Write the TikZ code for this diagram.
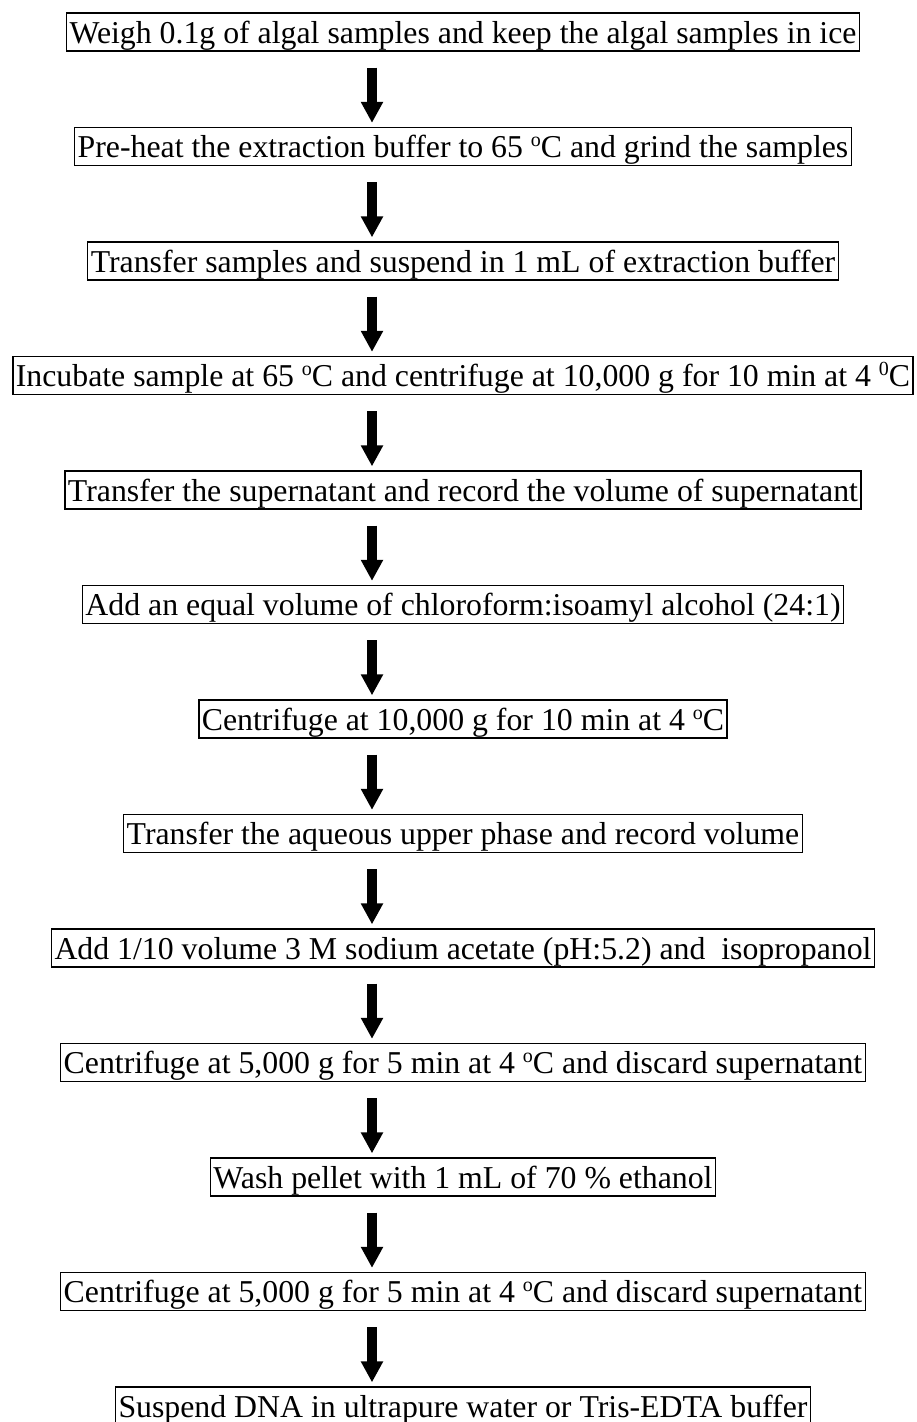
\documentclass[tikz,border=0pt]{standalone}
\usepackage{fontspec}
\setmainfont{Liberation Serif}
\usetikzlibrary{arrows.meta,positioning}
\newcommand\degsup[1]{\raisebox{11pt}{\fontsize{20pt}{20pt}\selectfont #1}}

\begin{document}
\begin{tikzpicture}[x=1pt, y=1pt,
  stepbox/.style={draw, line width=1.3pt, inner xsep=3pt, inner ysep=2pt,
    text height=28pt, text depth=6pt, font=\fontsize{31.8pt}{38pt}\selectfont},
  flow/.style={line width=10pt, -{Triangle[width=21pt,length=21pt]}}]
\useasboundingbox (0,0) rectangle (917,-1422);

\node[stepbox] (weigh) at (463,-32) {Weigh 0.1g of algal samples and keep the algal samples in ice};
\node[stepbox, below=75.2pt of weigh] (preheat) {Pre-heat the extraction buffer to 65 \degsup{o}C and grind the samples};
\node[stepbox, below=75.2pt of preheat] (suspend) {Transfer samples and suspend in 1 mL of extraction buffer};
\node[stepbox, below=75.2pt of suspend] (incubate) {Incubate sample at 65 \degsup{o}C and centrifuge at 10,000 g for 10 min at 4 \degsup{0}C};
\node[stepbox, below=75.2pt of incubate] (supernat) {Transfer the supernatant and record the volume of supernatant};
\node[stepbox, below=75.2pt of supernat] (chloro) {Add an equal volume of chloroform:isoamyl alcohol (24:1)};
\node[stepbox, below=75.2pt of chloro] (spinA) {Centrifuge at 10,000 g for 10 min at 4 \degsup{o}C};
\node[stepbox, below=75.2pt of spinA] (aqueous) {Transfer the aqueous upper phase and record volume};
\node[stepbox, below=75.2pt of aqueous] (acetate) {Add 1/10 volume 3 M sodium acetate (pH:5.2) and\ \ isopropanol};
\node[stepbox, below=75.2pt of acetate] (spinB) {Centrifuge at 5,000 g for 5 min at 4 \degsup{o}C and discard supernatant};
\node[stepbox, below=75.2pt of spinB] (wash) {Wash pellet with 1 mL of 70 \% ethanol};
\node[stepbox, below=75.2pt of wash] (spinC) {Centrifuge at 5,000 g for 5 min at 4 \degsup{o}C and discard supernatant};
\node[stepbox, below=75.2pt of spinC] (dna) {Suspend DNA in ultrapure water or Tris-EDTA buffer};

% arrows sit left of the box centres
\draw[flow] ([xshift=-91pt,yshift=-16pt]weigh.south) -- ([xshift=-91pt,yshift=4pt]preheat.north);
\draw[flow] ([xshift=-91pt,yshift=-16pt]preheat.south) -- ([xshift=-91pt,yshift=4pt]suspend.north);
\draw[flow] ([xshift=-91pt,yshift=-16pt]suspend.south) -- ([xshift=-91pt,yshift=4pt]incubate.north);
\draw[flow] ([xshift=-91pt,yshift=-16pt]incubate.south) -- ([xshift=-91pt,yshift=4pt]supernat.north);
\draw[flow] ([xshift=-91pt,yshift=-16pt]supernat.south) -- ([xshift=-91pt,yshift=4pt]chloro.north);
\draw[flow] ([xshift=-91pt,yshift=-16pt]chloro.south) -- ([xshift=-91pt,yshift=4pt]spinA.north);
\draw[flow] ([xshift=-91pt,yshift=-16pt]spinA.south) -- ([xshift=-91pt,yshift=4pt]aqueous.north);
\draw[flow] ([xshift=-91pt,yshift=-16pt]aqueous.south) -- ([xshift=-91pt,yshift=4pt]acetate.north);
\draw[flow] ([xshift=-91pt,yshift=-16pt]acetate.south) -- ([xshift=-91pt,yshift=4pt]spinB.north);
\draw[flow] ([xshift=-91pt,yshift=-16pt]spinB.south) -- ([xshift=-91pt,yshift=4pt]wash.north);
\draw[flow] ([xshift=-91pt,yshift=-16pt]wash.south) -- ([xshift=-91pt,yshift=4pt]spinC.north);
\draw[flow] ([xshift=-91pt,yshift=-16pt]spinC.south) -- ([xshift=-91pt,yshift=4pt]dna.north);

\end{tikzpicture}
\end{document}
